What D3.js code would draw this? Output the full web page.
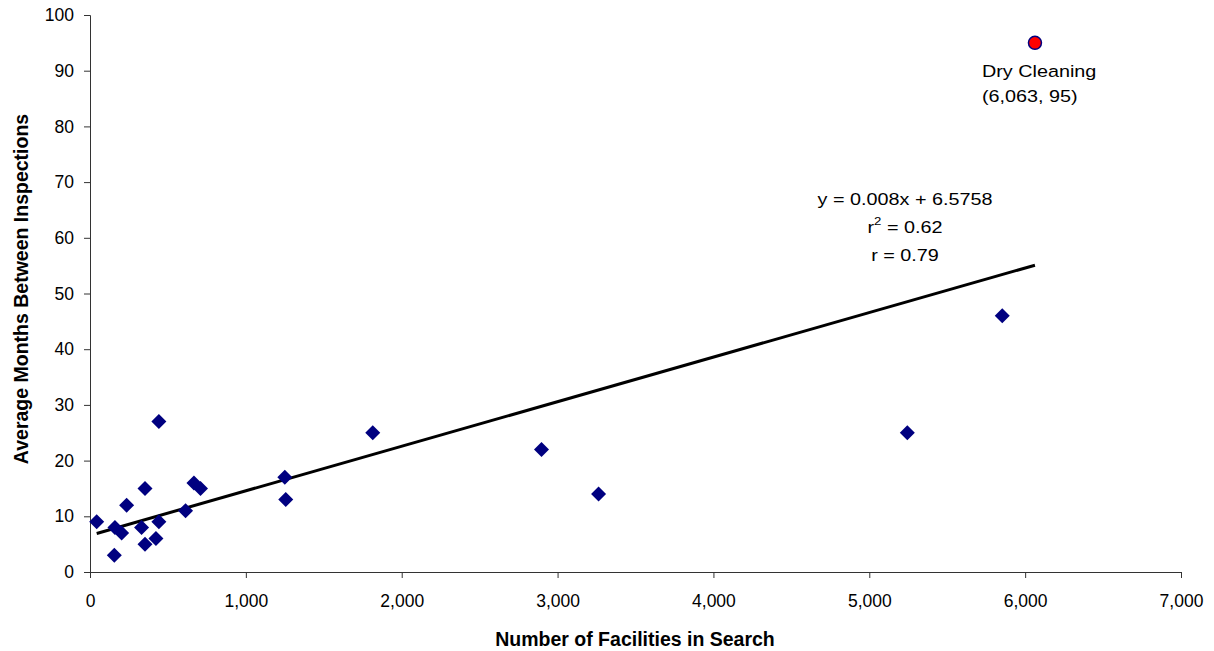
<!DOCTYPE html>
<html lang="en">
<head>
<meta charset="utf-8">
<title>Facilities vs inspection interval</title>
<script src="https://cdn.jsdelivr.net/npm/d3@7"></script>
<style>
  body { margin: 0; background: #fff; }
  svg text { font-family: "Liberation Sans", Arial, sans-serif; }
</style>
</head>
<body>
<div id="chart"></div>
<script>
// facilities in search (x) and average months between inspections (y)
const facilities = [43, 160, 203, 156, 235, 353, 331, 353, 423, 442, 442, 613, 667, 709, 1250, 1256, 1814, 2897, 3263, 5244, 5853];
const months     = [9,  8,   7,   3,   12,  15,  8,   5,   6,   9,   27,  11,  16,  15,  17,   13,   25,   22,   14,   25,   46];
const outlier = { name: "Dry Cleaning", x: 6063, y: 95 };
const fit = { slope: 0.008, intercept: 6.5758 };
const fitText = ["y = 0.008x + 6.5758", "r2 = 0.62", "r = 0.79"];
const xTicks = [0, 1000, 2000, 3000, 4000, 5000, 6000, 7000];
const yTicks = [0, 10, 20, 30, 40, 50, 60, 70, 80, 90, 100];

const width = 1214, height = 651;
const margin = { top: 15, right: 33, bottom: 80, left: 90 };
const stretch = 1.2;   // the annotation text in the original is drawn wide

const svg = d3.select('#chart').append('svg')
    .attr('width', width)
    .attr('height', height);

const x = d3.scaleLinear().domain([0, 7000]).range([margin.left, width - margin.right]);
const y = d3.scaleLinear().domain([0, 100]).range([height - margin.bottom + 1, margin.top]);

// axes
const xAxis = svg.append('g')
    .attr('transform', `translate(0,${y(0)})`)
    .call(d3.axisBottom(x).tickValues(xTicks).tickSize(6).tickPadding(17).tickFormat(d3.format(',')));
const yAxis = svg.append('g')
    .attr('transform', `translate(${x(0)},0)`)
    .call(d3.axisLeft(y).tickValues(yTicks).tickSize(6).tickPadding(10));

[xAxis, yAxis].forEach(a => {
  a.select('.domain').attr('stroke', '#333');
  a.selectAll('.tick line').attr('stroke', '#333');
  a.selectAll('text').attr('font-size', 17.5).attr('fill', '#000')
    .attr('font-family', '"Liberation Sans", Arial, sans-serif');
});

// trend line over the range of all points
const pts = facilities.map((v, i) => ({ x: v, y: months[i] }));
const allX = pts.map(d => d.x).concat([outlier.x]);
const x0 = d3.min(allX), x1 = d3.max(allX);
svg.append('line')
    .attr('x1', x(x0)).attr('y1', y(fit.slope * x0 + fit.intercept))
    .attr('x2', x(x1)).attr('y2', y(fit.slope * x1 + fit.intercept))
    .attr('stroke', '#000')
    .attr('stroke-width', 3);

// diamonds
const r = 7.5;
svg.selectAll('.pt')
    .data(pts)
    .enter().append('path')
    .attr('class', 'pt')
    .attr('d', `M0,${-r}L${r},0L0,${r}L${-r},0Z`)
    .attr('transform', d => `translate(${x(d.x)},${y(d.y)})`)
    .attr('fill', '#000080');

// outlier
svg.append('circle')
    .attr('cx', x(outlier.x)).attr('cy', y(outlier.y))
    .attr('r', 6.5)
    .attr('fill', '#ff0000')
    .attr('stroke', '#000080')
    .attr('stroke-width', 1.5);

function wideText(px, py, anchor) {
  return svg.append('g')
      .attr('transform', `translate(${px},${py}) scale(${stretch},1)`)
      .append('text')
      .attr('font-size', 16.5)
      .attr('text-anchor', anchor);
}

wideText(x(outlier.x) - 53, y(outlier.y) + 34, 'start').text(outlier.name);
wideText(x(outlier.x) - 53, y(outlier.y) + 59, 'start')
    .text(`(${d3.format(',')(outlier.x)}, ${outlier.y})`);

// regression text
const eqX = 905;
wideText(eqX, 205, 'middle').text(fitText[0]);
const r2 = wideText(eqX, 233, 'middle');
r2.append('tspan').text('r');
r2.append('tspan').attr('dy', -8).attr('font-size', 11).text('2');
r2.append('tspan').attr('dy', 8).text(' = 0.62');
wideText(eqX, 261, 'middle').text(fitText[2]);

// axis titles
svg.append('text')
    .attr('x', 635)
    .attr('y', 646)
    .attr('text-anchor', 'middle')
    .attr('font-size', 19.5)
    .attr('font-weight', 'bold')
    .text('Number of Facilities in Search');

svg.append('text')
    .attr('transform', `translate(28,289) rotate(-90)`)
    .attr('text-anchor', 'middle')
    .attr('font-size', 19.5)
    .attr('font-weight', 'bold')
    .text('Average Months Between Inspections');
</script>
</body>
</html>
